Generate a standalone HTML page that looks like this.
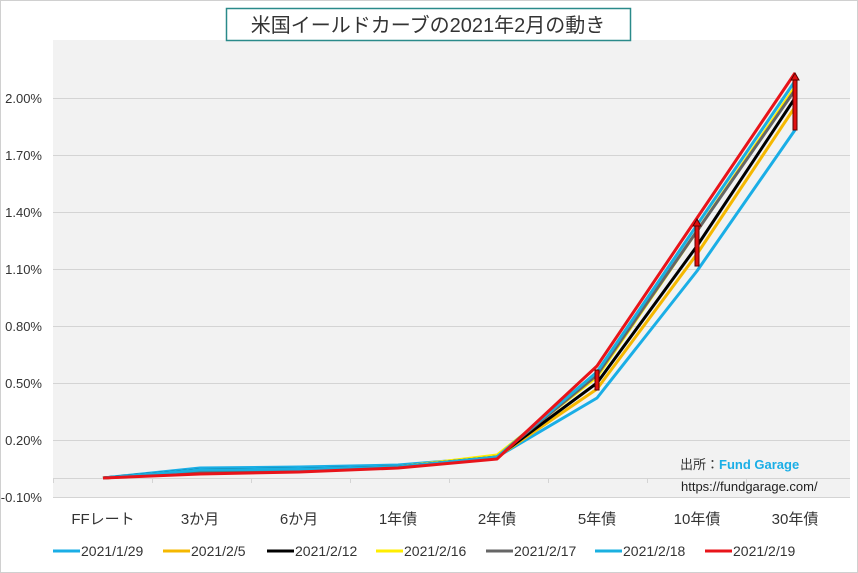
<!DOCTYPE html>
<html><head><meta charset="utf-8"><style>
body{margin:0;background:#fff;}
svg{display:block;font-family:"Liberation Sans","Noto Sans CJK JP",sans-serif;}
</style></head><body>
<svg width="858" height="573" viewBox="0 0 858 573">
<rect x="0.5" y="0.5" width="857" height="572" fill="#fff" stroke="#d0d0d0"/>
<rect x="53" y="40" width="797" height="457" fill="#f2f2f2"/>
<g stroke="#d4d4d4" stroke-width="1">
<line x1="53" x2="850" y1="98.5" y2="98.5"/><line x1="53" x2="850" y1="155.5" y2="155.5"/>
<line x1="53" x2="850" y1="212.5" y2="212.5"/><line x1="53" x2="850" y1="269.5" y2="269.5"/>
<line x1="53" x2="850" y1="326.5" y2="326.5"/><line x1="53" x2="850" y1="383.5" y2="383.5"/>
<line x1="53" x2="850" y1="440.5" y2="440.5"/><line x1="53" x2="850" y1="497.5" y2="497.5"/>
<line x1="53" x2="850" y1="478.5" y2="478.5"/>
<line x1="53.5" x2="53.5" y1="478" y2="483"/><line x1="152.5" x2="152.5" y1="478" y2="483"/>
<line x1="251.5" x2="251.5" y1="478" y2="483"/><line x1="350.5" x2="350.5" y1="478" y2="483"/>
<line x1="449.5" x2="449.5" y1="478" y2="483"/><line x1="548.5" x2="548.5" y1="478" y2="483"/>
<line x1="647.5" x2="647.5" y1="478" y2="483"/><line x1="746.5" x2="746.5" y1="478" y2="483"/>
</g>
<g font-size="13" fill="#333" text-anchor="end">
<text x="42" y="103">2.00%</text><text x="42" y="160">1.70%</text><text x="42" y="217">1.40%</text>
<text x="42" y="274">1.10%</text><text x="42" y="331">0.80%</text><text x="42" y="388">0.50%</text>
<text x="42" y="445">0.20%</text><text x="42" y="502">-0.10%</text>
</g>
<g font-size="15" fill="#333" text-anchor="middle">
<text x="103" y="524">FFレート</text><text x="200" y="524">3か月</text><text x="299" y="524">6か月</text>
<text x="398" y="524">1年債</text><text x="497" y="524">2年債</text><text x="597" y="524">5年債</text>
<text x="697" y="524">10年債</text><text x="795" y="524">30年債</text>
</g>
<g fill="none" stroke-width="3" stroke-linejoin="round">
<polyline stroke="#1aaee6" points="103,478 200,468 299,467 398,465 497,457 597,398 697,271 795,130"/>
<polyline stroke="#f5b800" points="103,478 200,472 299,470 398,467 497,457 597,389 697,254 795,107"/>
<polyline stroke="#ffee00" points="103,478 200,472 299,470 398,467 497,455 597,377 697,231 795,87"/>
<polyline stroke="#000" points="103,478 200,470 299,469 398,467 497,457 597,383 697,246 795,98"/>
<polyline stroke="#666" points="103,478 200,472 299,470 398,467 497,457 597,375 697,231 795,90"/>
<polyline stroke="#1ab0e0" points="103,478 200,470 299,469 398,467 497,457 597,372 697,225 795,81"/>
<polyline stroke="#e8141a" points="103,478 200,474 299,472 398,468 497,459 597,366 697,218 795,73"/>
</g>
<g fill="#e01010" stroke="#5a0000" stroke-width="1">
<rect x="595" y="370" width="4" height="20"/>
<rect x="695" y="224" width="4" height="42"/><polygon points="693,226 697,219 701,226"/>
<rect x="793" y="78" width="4" height="52"/><polygon points="791,80 795,73 799,80"/>
</g>
<text x="680" y="469" font-size="13" fill="#333">出所：<tspan fill="#1aaee6" font-weight="bold">Fund Garage</tspan></text>
<text x="681" y="491" font-size="13" fill="#222">https://fundgarage.com/</text>
<rect x="226.5" y="8.5" width="404" height="32" fill="#fff" stroke="#2a8a8a" stroke-width="1.5"/>
<text x="428" y="32" font-size="20" fill="#333" text-anchor="middle">米国イールドカーブの2021年2月の動き</text>
<g font-size="14" fill="#333">
<line x1="53" x2="80" y1="551" y2="551" stroke="#1aaee6" stroke-width="3"/><text x="81" y="556">2021/1/29</text>
<line x1="163" x2="190" y1="551" y2="551" stroke="#f5b800" stroke-width="3"/><text x="191" y="556">2021/2/5</text>
<line x1="267" x2="294" y1="551" y2="551" stroke="#000" stroke-width="3"/><text x="295" y="556">2021/2/12</text>
<line x1="376" x2="403" y1="551" y2="551" stroke="#ffee00" stroke-width="3"/><text x="404" y="556">2021/2/16</text>
<line x1="486" x2="513" y1="551" y2="551" stroke="#666" stroke-width="3"/><text x="514" y="556">2021/2/17</text>
<line x1="595" x2="622" y1="551" y2="551" stroke="#1ab0e0" stroke-width="3"/><text x="623" y="556">2021/2/18</text>
<line x1="705" x2="732" y1="551" y2="551" stroke="#e8141a" stroke-width="3"/><text x="733" y="556">2021/2/19</text>
</g>
</svg>
</body></html>
